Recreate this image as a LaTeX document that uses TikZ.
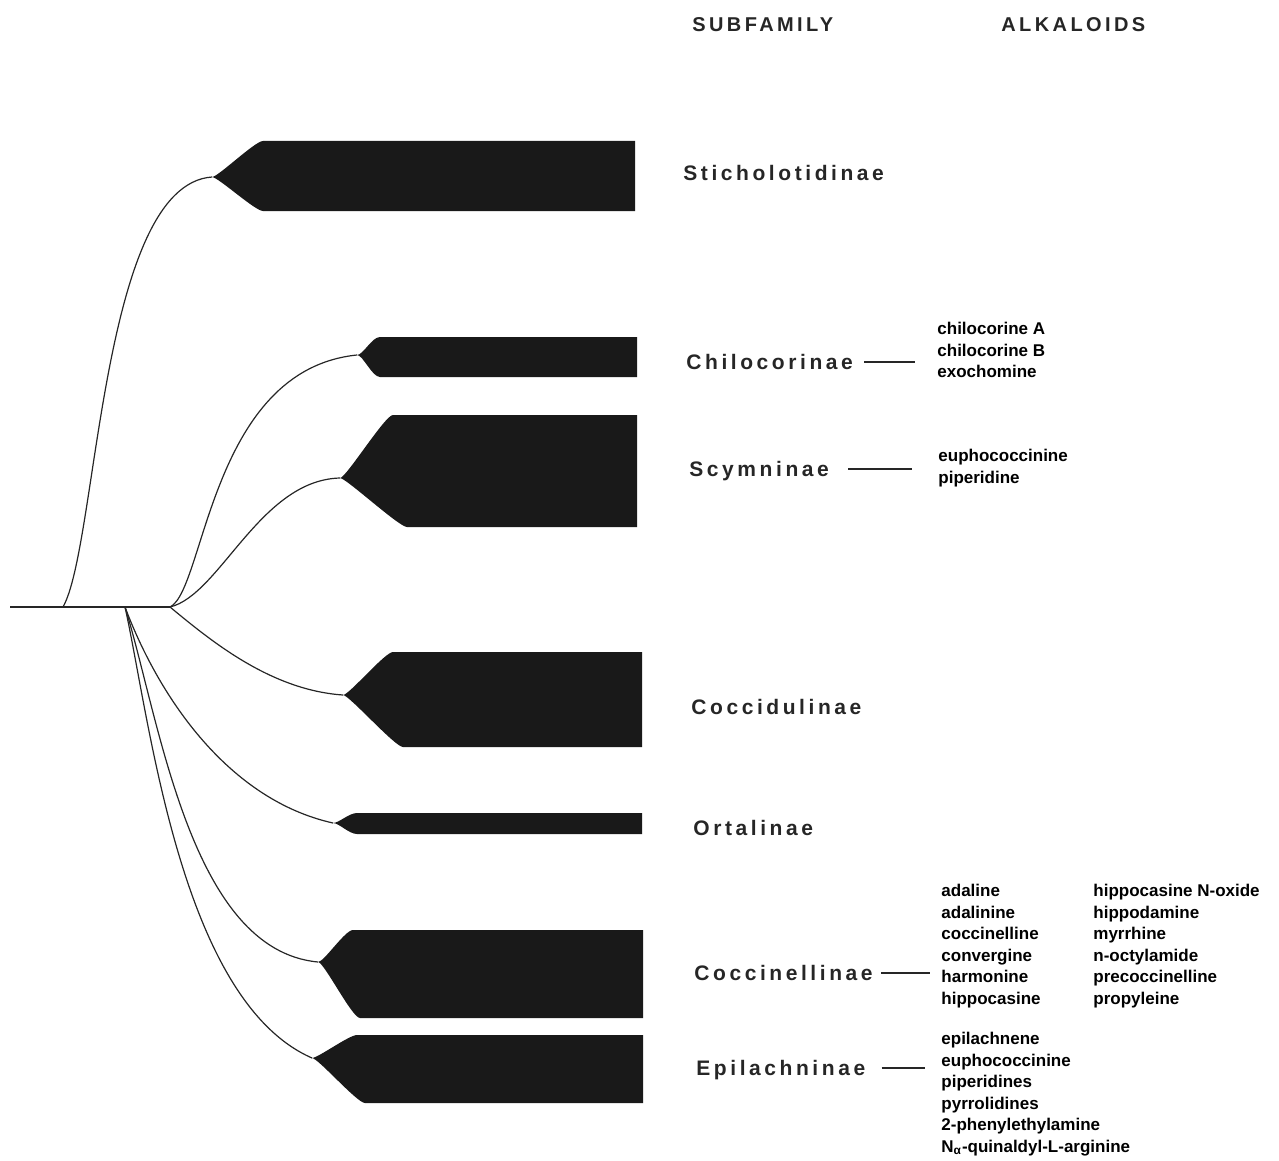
\documentclass[tikz,border=0pt]{standalone}
\usepackage{fontspec}
\usepackage{tikz}
\setmainfont{Liberation Sans}
\newfontfamily\cladefont[LetterSpace=17]{Liberation Sans}
\newcommand{\drawClade}[7]{
\fill [black!90] (#1,#2) .. controls (#1+6,#2) and (#5-8,#3) .. (#5,#3) -- (#7,#3) -- (#7,#4) -- (#6,#4) .. controls (#6-8,#4) and (#1+6,#2) .. (#1,#2);
}
\tikzset{
subfam/.style={anchor=west,inner sep=0pt,text height=7.5pt,text depth=0pt,text=black!85,font=\cladefont\bfseries\fontsize{10.5}{12}\selectfont},
colhead/.style={anchor=west,inner sep=0pt,text height=7.2pt,text depth=0pt,text=black!85,font=\cladefont\bfseries\fontsize{10}{12}\selectfont},
alklist/.style={anchor=west,inner sep=0pt,align=left,text=black,font=\bfseries\fontsize{8.5}{10.75}\selectfont},
branch/.style={line width=0.6pt,black!85},
tick/.style={line width=1.3pt,black!85}
}
\begin{document}
\begin{tikzpicture}[x=0.5pt,y=-0.5pt]
\useasboundingbox (0,0) rectangle (1279,1161);
\node (subhead) at (692,24) [colhead] {SUBFAMILY};
\node (alkhead) at (1001,24) [colhead] {ALKALOIDS};
\coordinate (root) at (10,607);
\coordinate (forkA) at (63,607);
\coordinate (forkB) at (125,607);
\coordinate (forkC) at (170,607);
\coordinate (stichotip) at (212,177);
\coordinate (chilotip) at (357,355);
\coordinate (scymtip) at (340,478);
\coordinate (cocctip) at (343,695);
\coordinate (orttip) at (333,823);
\coordinate (coctip) at (318,962);
\coordinate (epitip) at (312,1058);
\drawClade{212}{177}{141}{211}{263}{263}{635}
\drawClade{357}{355}{337}{377}{380}{380}{637}
\drawClade{340}{478}{415}{527}{393}{407}{637}
\drawClade{343}{695}{652}{747}{393}{403}{642}
\drawClade{333}{823}{813}{834}{357}{357}{642}
\drawClade{318}{962}{930}{1018}{353}{360}{643}
\drawClade{312}{1058}{1035}{1103}{357}{365}{643}
\draw [branch] (root) -- (forkC);
\draw [branch] (forkA) .. controls (98,545) and (100,185) .. (stichotip);
\draw [branch] (forkC) .. controls (205,590) and (210,370) .. (chilotip);
\draw [branch] (forkC) .. controls (220,595) and (260,480) .. (scymtip);
\draw [branch] (forkC) .. controls (210,640) and (270,690) .. (cocctip);
\draw [branch] (forkB) .. controls (160,700) and (230,800) .. (orttip);
\draw [branch] (forkB) .. controls (160,720) and (190,950) .. (coctip);
\draw [branch] (forkB) .. controls (150,720) and (180,1000) .. (epitip);
\node (sticho) at (683,173) [subfam] {Sticholotidinae};
\node (chilo) at (686,362) [subfam] {Chilocorinae};
\node (scym) at (689,469) [subfam] {Scymninae};
\node (cocci) at (691,707) [subfam] {Coccidulinae};
\node (ortal) at (693,828) [subfam] {Ortalinae};
\node (coccin) at (694,973) [subfam] {Coccinellinae};
\node (epil) at (696,1068) [subfam] {Epilachninae};
\node (chiloalk) at (937,350) [alklist] {chilocorine A\\chilocorine B\\exochomine};
\node (scymalk) at (938,468) [alklist] {euphococcinine\\piperidine};
\node (coccinalkA) at (941,946) [alklist] {adaline\\adalinine\\coccinelline\\convergine\\harmonine\\hippocasine};
\node (coccinalkB) at (1093,946) [alklist] {hippocasine N-oxide\\hippodamine\\myrrhine\\n-octylamide\\precoccinelline\\propyleine};
\node (epilalk) at (941,1094) [alklist] {epilachnene\\euphococcinine\\piperidines\\pyrrolidines\\2-phenylethylamine\\N\textsubscript{α}-quinaldyl-L-arginine};
\draw [tick,shorten <=5.5pt,shorten >=11pt] (chilo.east) -- (chilo.east -| chiloalk.west);
\draw [tick,shorten <=9.5pt,shorten >=13pt] (scym.east) -- (scym.east -| scymalk.west);
\draw [tick,shorten <=4pt,shorten >=5.5pt] (coccin.east) -- (coccin.east -| coccinalkA.west);
\draw [tick,shorten <=8pt,shorten >=8pt] (epil.east) -- (epil.east -| epilalk.west);
\end{tikzpicture}
\end{document}
